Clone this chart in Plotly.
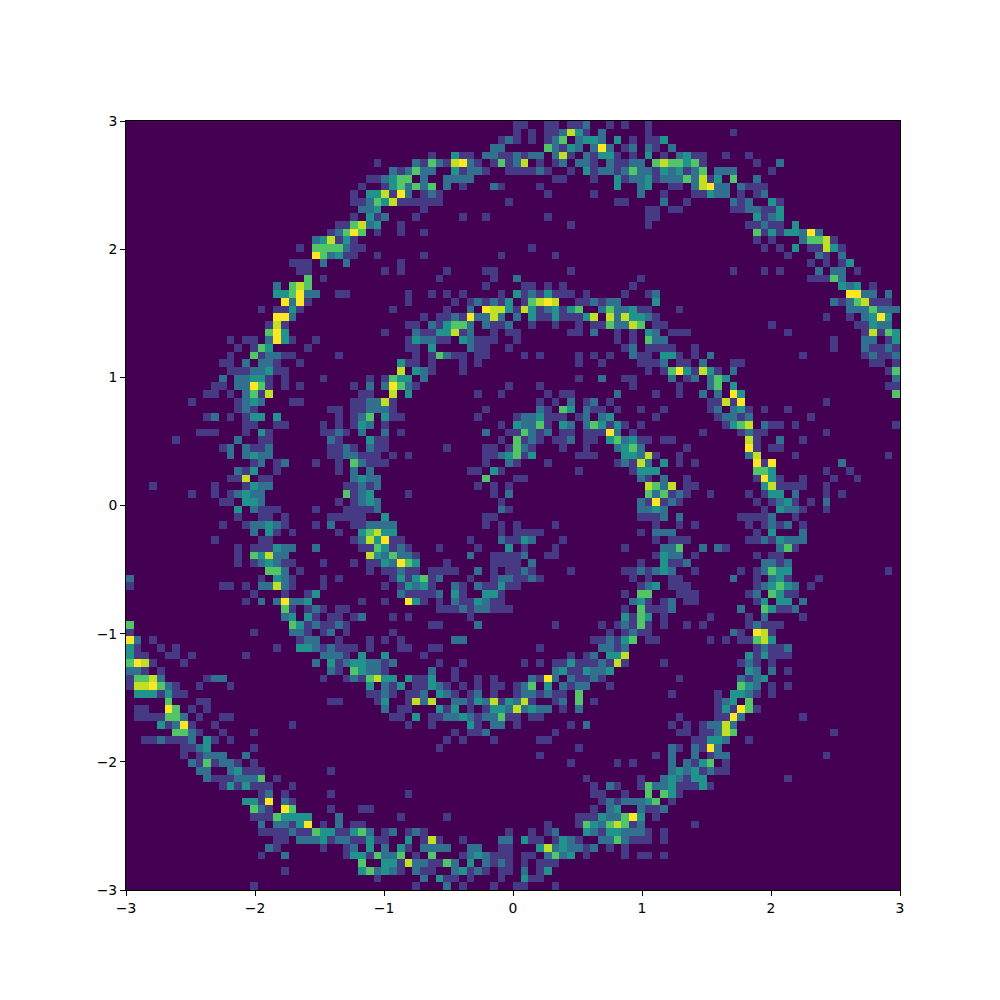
import numpy as np
import plotly.graph_objects as go

# Bin counts. Each row: "start_col:digits" runs, top row first.
TOP_LEFT = [
"", "", "48:12", "47:22", "39:1 42:3 43:11 46:22 48:11",
"32:1 37:214215621 47:141", "34:212422 42:31221 49:1", "31:112344 38:2 41:2222",
"30:1 33:1342424 41:2 43:1 47:21", "29:1 31:335162 38:121", "29:112435111111 49:1",
"30:223 38:1", "29:1 31:312 37:1 43:1 46:1", "27:114523 35:1", "26:12464 32:1 35:1 38:1",
"24:235131", "22:1 24:4444211", "24:642311 32:1 38:1 48:1", "21:111 25:2 28:2 35:1",
"22:11 33:1 35:1 41:1 46:11", "23:4 25:1 40:1 47:1", "19:2 21:454 46:1",
"19:334622 27:11 36:1 39:1 41:1 43:1 48:1", "20:6261 36:1 42:1 44:121213",
"17:1 19:1131 34:1 41:1 44:2 46:6553", "19:662 38:1 40:112162252",
"18:151 36:11 39:213442 46:2112", "18:463 33:1 37:21133512 47:1 49:1",
"13:1 15:11 18:2631 24:1 36:132211 43:32111", "14:1 16:143 23:1 36:11 39:3 44:211 49:1",
"13:1 16:412211 27:1 37:1 39:14211 45:11", "12:11 15:2 17:221 22:1 35:311 39:1 43:1 45:1",
"13:11122311 35:5 37:321 43:1", "12:2 14:22331 20:1 25:1 31:1 33:1433 38:2",
"11:11 14:22641 20:1 22:1 29:1 31:2 33:26421 49:1", "10:11 13:1 15:2415 30:11 34:5 36:3 45:1 48:1",
"8:1 14:1232 21:11 29:112251", "14:121 26:11 29:112221 46:1",
"10:12 13:1 15:133 19:3 27:1 29:124 33:311 45:1", "15:11 19:11 25:1 27:1 29:132 33:1 48:1",
"9:111 15:1 17:31 25:1121 30:2 33:2 35:1 46:2 49:1", "6:1 14:2 17:11 26:21 31:311 48:1",
"12:12 15:2112 26:1121 31:211 41:1 46:11 49:1", "13:2 15:2322 26:1122111 34:1 36:1 46:1123",
"16:12 19:12 24:1 27:1 29:42111 46:1 49:2", "14:213 19:1 27:1 29:2 31:2 44:11 47:31",
"13:115 17:11 29:2322 46:4", "3:1 11:1 15:1322 28:11212 45:1 47:1 49:1",
"8:1 11:1 13:12322 28:4123 36:1 47:1 49:2", "12:11 15:332 27:1 29:1232 48:1",
]
TOP_RIGHT = [
"0:11 4:11 7:112 12:1 14:1 17:1", "0:1 2:1 4:112531 11:2 17:1 28:1",
"0:1 2:1 4:124 8:2332 13:3 15:1 17:113", "4:42132 10:262 14:12 17:21 20:2",
"0:2122 5:251 9:21331 15:1 17:3 19:1 21:2311 27:1 30:1",
"0:25 3:1 5:12 8:221 12:21122 18:4544341 31:1 34:2",
"0:11121 7:1 9:3122124221323124 26:222 33:1", "5:11 10:1 13:31223122242513 28:4 31:2",
"3:1 13:3 16:23 20:11 23:25622 29:2111", "4:1 10:1 16:2 19:1 23:11322 29:1 31:12",
"13:11 19:2 22:1 28:212 33:31", "17:11 20:11 28:1122113", "4:1 17:11 31:3123",
"7:1 17:1 30:11211 36:3", "31:413133262", "31:1 33:1 37:24451", "2:1 32:1 34:1 36:3 38:11531",
"5:1 35:1 39:21 42:2", "38:1 40:1 42:13", "7:1 28:1 32:1 34:1 39:2 41:22 44:1",
"0:2 16:1 38:11142", "1:11 4:1 6:1 15:1 42:323 46:1",
"0:31213111 9:1 14:1 17:12 43:6622 48:2", "1:14565 8:112122 18:3 41:21245111",
"0:153123134 11:2422311 21:1 43:2224222", "0:2 2:311311135 12:5253321 40:1 43:1 45:2363",
"2:1 5:1 8:1 10:1142254 18:11 33:1 44:11322", "0:1 7:11 10:2 13:1 15:1 17:32 20:111 35:1 45:15143",
"0:1 13:1 15:1 17:422 41:1 45:22 48:13", "14:12 17:1111 23:1 41:1 45:21121",
"1:1 3:1 8:1 10:1 12:1 15:211 19:331 23:1 25:2 37:1 45:12112",
"8:1 11:1 16:111 19:2 21:11 24:2 28:11 46:11 49:1", "17:1 19:14631531 28:2 48:14",
"8:1 11:2 14:11 20:2 22:12 25:243 49:2", "3:1 15:1 21:1 25:24 28:3 48:11",
"4:1 6:11 13:2 18:1 21:1 24:2 26:2 28:63 49:4", "3:1 5:1 7:2 9:12 12:1 25:11516 40:1",
"3:21 6:43 9:211 13:1 16:1 19:1 25:12 28:231 32:1 35:1",
"0:1223111 8:12 11:23 18:1 26:12212 38:1", "0:32241 6:32 9:243131 16:1 27:1345 32:211 36:1 49:1",
"0:14212 6:11 9:11162 15:1 24:1 29:1211 40:1", "0:4121 5:112 9:11 12:342311 19:11 30:51 34:2 37:1",
"0:421 6:1 9:1 13:2342 22:1 30:61 33:11", "0:413 8:111 14:33251 21:1 30:25 36:1 48:1",
"0:1 4:1 13:12152 19:3 21:1 23:1 31:616 42:2", "8:1 15:1333 31:443 40:1 43:1",
"0:11 16:21 19:2 22:1 31:1631 37:1 41:1 44:1", "17:5425 22:11 32:351111 40:1",
"17:424121 25:1 30:1 32:133 36:2 40:1 42:1", "16:216121 31:1 33:1231 38:1 40:2",
]
BOTTOM_LEFT = [
"14:3 16:2111 24:1 28:11112 48:21", "14:1 17:11 20:1 26:11111 33:3 46:11",
"12:1 15:122321 24:1 26:2 29:112222 46:1 48:1", "16:2 18:31 21:1 27:1 30:34533 48:1",
"11:1 17:11 29:1253611 44:1 48:21", "14:1 16:111322 24:2 30:1143121 40:1 45:1 49:3",
"14:1 16:43522 31:5324221 44:2 47:111", "14:1 16:123211 25:1 29:1 31:1132643 41:1 47:111",
"18:442 22:1 31:1 33:11211 39:1111 45:2 47:1 49:1", "0:2 17:1 19:321 25:1 27:1 34:1313412 44:1 47:122",
"0:1 12:11 15:1 17:22521 25:1 33:1 35:13231 42:21 45:21131", "16:1 20:1 23:13 35:211112 42:31 46:331",
"15:1 17:2 19:26223 30:1 33:1 36:631 40:1 42:2113211", "20:41 23:121 27:11 40:1112122111",
"20:23 23:31 26:11 29:12 34:1 36:1 44:1", "0:4 21:43121121 39:11 45:2",
"0:1 16:1 21:221 25:12 28:1 34:1", "0:62 3:1 22:122 27:1 31:1 33:1 35:1 42:22",
"0:31 4:1 6:1 19:1 22:33212111 31:1 35:11 39:11", "0:311 5:11 8:1 15:1 25:2221 30:3 33:3 38:1",
"0:4651 7:1 24:2 26:312332212 40:1 43:1", "0:221 4:1 26:21 29:43221 39:2 42:1",
"0:14452 10:122 25:1 28:1214533 36:3113 42:1 45:1 47:1",
"0:1556421 9:1 13:1 31:3 33:213 37:11321 43:1 45:1 47:11",
"1:3331311 31:1121 36:112 40:321 44:12 47:1", "5:4 9:11 26:11 32:13 36:1525 42:22132513",
"1:11 5:64 8:1 10:1 33:2 35:11 40:313 44:1 46:1332",
"1:1111442 9:1 12:11 34:11 37:3 39:11223212241", "4:31261 11:1 21:1 36:1 39:1 44:31 47:22",
"6:4421 12:1 16:1 42:1 44:112", "2:1121112 10:31 13:1 41:1 43:1 47:1", "7:1123 16:1 40:1",
"7:1 9:1222 15:2", "8:2141221 16:1", "9:22 13:23111 26:1", "10:21112224 19:1",
"12:1313111 21:1", "17:12 20:1 26:1 36:1", "15:3316 20:21", "16:421 20:64 26:1 30:11",
"16:11143333 27:2 35:1 41:1", "17:2 19:22136 25:1 27:2 29:11",
"17:111121143311342 33:12 36:121 49:1", "19:11 22:222312211311 36:3 38:151 43:1 48:22",
"18:21 25:1 28:12 31:3 33:2 35:31 38:2222 44:22 48:11",
"17:1 20:2 28:13314224 37:1 39:4 43:1232111", "30:4 33:3315221142 44:3 46:2121",
"20:1 30:342321 37:211 42:23121 48:11", "32:1 38:2 40:311 44:1 48:1", "16:1 37:1 41:2 43:1 47:1",
]
BOTTOM_RIGHT = [
"16:2232 32:1 34:3221 40:1", "16:1112 21:2 29:11112 36:1", "0:1 5:1 18:1 21:1 23:1 30:1 32:1212 37:1",
"0:1111 16:1 18:222 31:1 33:3 37:2", "0:132 6:1 18:1 20:111 30:11213222",
"1:1 5:1 14:1 19:224 24:2 26:21 34:241", "0:12 4:11 18:1322 23:1 31:1 33:11",
"0:1 2:2 16:1 19:3112 32:2212", "0:121 7:1 14:1121232 23:1 29:1 31:12433 48:1",
"0:1121 15:1 17:1 20:11 28:2 31:1 33:231 39:1", "0:1 16:123 20:111 31:123432 38:1",
"14:1 16:44 21:111 30:12 33:4311", "15:231 19:12 22:11 31:13 34:33 37:2",
"14:1 16:4111 20:2 29:2 32:43112", "14:3143 19:1 25:1 30:1 32:2 37:1",
"5:1 11:1 13:12141 19:1 22:1 24:1 30:12111", "12:1 14:1211 28:21 31:651",
"10:112134 17:11 25:1 27:1 29:11453", "3:1 11:2212 31:12112", "7:1 9:12 12:335 30:313111",
"1:1 3:1 5:1131112151 19:1 29:121 33:1", "5:23113223 30:32 33:2 35:1",
"2:2162 7:21121 21:1 29:2123", "0:124 4:3 6:2122 12:1 29:432 33:1 35:1",
"0:1221211 8:4 20:1 26:1 28:3321 33:1", "0:251 5:12 8:4 10:1 26:123 30:4",
"0:52322 6:1 8:2 26:131641", "0:1 2:11 21:1 26:1162 37:1", "0:1 7:1 9:2 20:1 22:1 24:12252",
"5:1 21:11 24:11254 41:1", "3:11 23:11332 30:1", "8:1 20:21 23:2162", "3:1 18:1 20:2 23:2 25:122 40:1",
"7:1 13:1 15:1 20:2 22:2134 27:1", "20:23231211", "9:1 16:1 19:232133 35:1",
"10:1 12:21 16:1422311131", "10:11 14:1 17:4 19:431", "11:12122234 20:1", "10:1 12:23 16:2112",
"8:111322463 18:1", "4:1 8:143245412 23:1", "2:1 4:12 9:321332221 19:1",
"1:311 5:1321 11:2242111 19:1", "3:35232212 12:1 14:1", "1:11 4:2423 9:1 14:1 16:11 19:1",
"1:1 3:111", "1:2 3:13", "1:311", "0:11 5:1",
]
TICKS = [-3, -2, -1, 0, 1, 2, 3]
LEVEL_COLOURS = ["#440154", "#463a85", "#31708e", "#20938c", "#52c569", "#c0df25", "#fde725"]


def fill(z, rows, row0, col0):
    for r, text in enumerate(rows):
        for token in text.split():
            start, digits = token.split(":")
            for k, d in enumerate(digits):
                z[row0 + r, col0 + int(start) + k] = int(d)


grid = np.zeros((100, 100))
fill(grid, TOP_LEFT, 0, 0)
fill(grid, TOP_RIGHT, 0, 50)
fill(grid, BOTTOM_LEFT, 50, 0)
fill(grid, BOTTOM_RIGHT, 50, 50)
grid = grid[::-1]

n = len(LEVEL_COLOURS)
scale = []
for i, c in enumerate(LEVEL_COLOURS):
    scale += [[i / n, c], [(i + 1) / n, c]]

fig = go.Figure(go.Heatmap(
    z=grid, x0=-2.97, dx=0.06, y0=-2.97, dy=0.06,
    zmin=-0.5, zmax=6.5, colorscale=scale, showscale=False, hoverinfo="skip",
))
axis = dict(
    range=[-3, 3], tickvals=TICKS, ticks="outside", ticklen=5, tickwidth=1,
    tickcolor="black", showline=True, linecolor="black", linewidth=1, mirror=True,
    showgrid=False, zeroline=False,
    tickfont=dict(family="DejaVu Sans", size=13.9, color="black"),
)
fig.update_layout(
    width=1000, height=1000, autosize=False,
    margin=dict(l=125.5, r=99.5, t=120.5, b=109.5),
    paper_bgcolor="white", plot_bgcolor="#440154",
    xaxis=axis, yaxis=axis,
)
fig.write_html(
    "out.html",
    config={"displayModeBar": False},
    post_script="document.body.style.margin='0';",
)
